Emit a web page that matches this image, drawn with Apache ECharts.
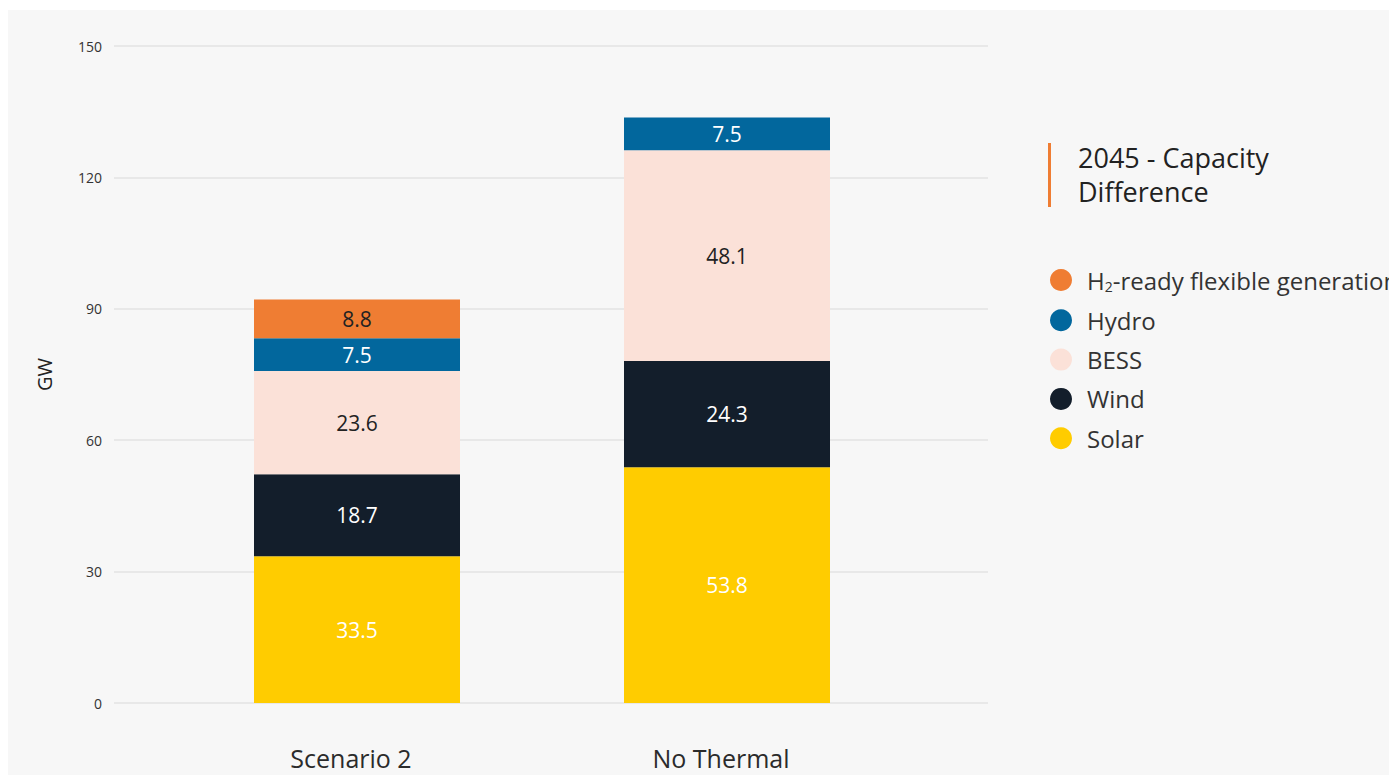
<!DOCTYPE html>
<html>
<head>
<meta charset="utf-8">
<script src="https://cdn.jsdelivr.net/npm/echarts@6/dist/echarts.min.js"></script>
<style>
  html, body { margin: 0; padding: 0; background: #ffffff; }
  #chart {
    position: absolute;
    left: 8px;
    top: 10px;
    width: 1381px;
    height: 765px;
    background: #f7f7f7;
  }
</style>
</head>
<body>
<div id="chart"></div>
<script>
const categories = ["Scenario 2", "No Thermal"];
const solar = [33.5, 53.8];
const wind = [18.7, 24.3];
const bess = [23.6, 48.1];
const hydro = [7.5, 7.5];
const h2 = [8.8, null];
const yTicks = [0, 30, 60, 90, 120, 150];

const font = "'Open Sans', 'Noto Sans', sans-serif";
const chart = echarts.init(document.getElementById("chart"), null, { renderer: "svg" });

function bar(name, data, color, labelColor) {
  return {
    name: name,
    type: "bar",
    stack: "total",
    xAxisIndex: 0,
    yAxisIndex: 0,
    barWidth: 206,
    data: data,
    itemStyle: { color: color },
    label: {
      show: true,
      position: "inside",
      color: labelColor,
      fontFamily: font,
      fontSize: 21,
      formatter: (p) => (p.value == null ? "" : p.value.toFixed(1)),
    },
  };
}

const option = {
  animation: false,
  textStyle: { fontFamily: font },
  title: {
    text: "2045 - Capacity\nDifference",
    left: 1065,
    top: 125,
    textStyle: {
      fontFamily: font,
      fontSize: 27,
      fontWeight: "normal",
      color: "#222",
      lineHeight: 34,
    },
  },
  graphic: [
    {
      type: "rect",
      shape: { x: 1040, y: 133, width: 3, height: 64 },
      style: { fill: "#ef7d33" },
    },
  ],
  legend: {
    orient: "vertical",
    left: 1037,
    top: 253,
    icon: "circle",
    itemWidth: 22,
    itemHeight: 22,
    itemGap: 15.3,
    data: ["H2-ready flexible generation", "Hydro", "BESS", "Wind", "Solar"],
    formatter: (name) =>
      name === "H2-ready flexible generation" ? "H{sub|2}-ready flexible generation" : name,
    textStyle: {
      fontFamily: font,
      fontSize: 24,
      color: "#333",
      padding: [0, 0, 0, 10],
      rich: {
        sub: { fontSize: 14, verticalAlign: "bottom", padding: [12, 0, 0, 0], color: "#333", fontFamily: font },
      },
    },
  },
  grid: [
    { left: 164, width: 740, top: 36, height: 657 },
    { left: 106, width: 874, top: 36, height: 657 },
  ],
  xAxis: [
    {
      type: "category",
      gridIndex: 0,
      data: categories,
      axisLine: { show: false },
      axisTick: { show: false },
      axisLabel: {
        color: "#2b2b2b",
        fontSize: 25,
        fontFamily: font,
        margin: 42,
        padding: [0, 12, 0, 0],
      },
    },
    {
      type: "category",
      gridIndex: 1,
      data: categories,
      show: false,
    },
  ],
  yAxis: [
    {
      type: "value",
      gridIndex: 0,
      min: 0,
      max: 150,
      interval: 30,
      show: false,
      splitLine: { show: false },
    },
    {
      type: "value",
      gridIndex: 1,
      min: yTicks[0],
      max: yTicks[yTicks.length - 1],
      interval: yTicks[1] - yTicks[0],
      name: "GW",
      nameLocation: "middle",
      nameGap: 60,
      nameTextStyle: { color: "#222", fontSize: 20, fontFamily: font },
      axisLine: { show: false },
      axisTick: { show: false },
      axisLabel: { color: "#333", fontSize: 14, fontFamily: font, margin: 12 },
      splitLine: { lineStyle: { color: "#e8e8e8", width: 2 } },
    },
  ],
  series: [
    bar("Solar", solar, "#ffcc00", "#ffffff"),
    bar("Wind", wind, "#131e2b", "#ffffff"),
    bar("BESS", bess, "#fbe1d8", "#222222"),
    bar("Hydro", hydro, "#02679d", "#ffffff"),
    bar("H2-ready flexible generation", h2, "#ef7d33", "#222222"),
  ],
};

chart.setOption(option);
</script>
</body>
</html>
